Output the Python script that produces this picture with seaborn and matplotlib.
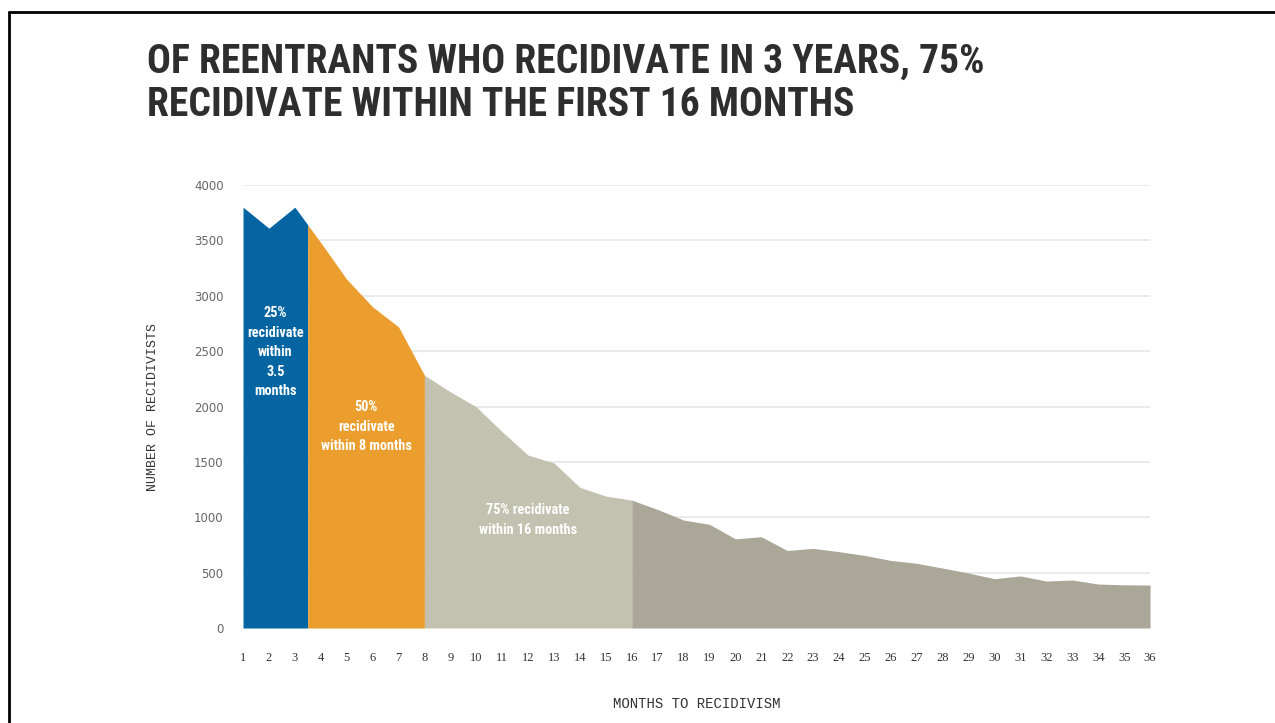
import numpy as np
import pandas as pd
import matplotlib
matplotlib.use("Agg")
import matplotlib.pyplot as plt
import seaborn as sns

# Monthly counts of recidivists over the first three years after release
months = list(range(1, 37))
recidivists = [3800, 3610, 3800, 3480, 3150, 2900, 2720, 2283,
               2133, 1997, 1772, 1561, 1490, 1270, 1191, 1155,
               1070, 975, 936, 805, 824, 700, 719, 689,
               655, 610, 584, 541, 496, 445, 470, 424,
               433, 397, 390, 388]

# Cumulative-share breakpoints (in months) and their fills
breaks = [1, 3.5, 8, 16, 36]
band_colors = ["#0565a3", "#eb9e2e", "#c3c2b0", "#aaa799"]

y_ticks = [0, 500, 1000, 1500, 2000, 2500, 3000, 3500, 4000]

title_lines = ["OF REENTRANTS WHO RECIDIVATE IN 3 YEARS, 75%",
               "RECIDIVATE WITHIN THE FIRST 16 MONTHS"]
band_notes = [
    (2.25, 2490, "25%\nrecidivate\nwithin\n3.5\nmonths", "bold"),
    (5.75, 1815, "50%\nrecidivate\nwithin 8 months", "bold"),
    (12.0, 975, "75% recidivate\nwithin 16 months", "semibold"),
]

df = pd.DataFrame({"month": months, "count": recidivists})

sns.set_theme(style="white")
narrow = ["Roboto Condensed", "Liberation Sans Narrow", "Roboto", "DejaVu Sans"]

fig = plt.figure(figsize=(12.75, 7.23), dpi=100)
ax = fig.add_axes([0.1906, 0.1314, 0.7114, 0.6127])

# Horizontal gridlines spanning the data range
for yv in y_ticks:
    ax.plot([1, 36], [yv, yv], color="#e4e4e4", lw=1.1, zorder=0)

x = np.asarray(df["month"], dtype=float)
y = np.asarray(df["count"], dtype=float)
for (lo, hi), col in zip(zip(breaks[:-1], breaks[1:]), band_colors):
    inner = x[(x > lo) & (x < hi)]
    xs = np.concatenate([[lo], inner, [hi]])
    ys = np.interp(xs, x, y)
    ax.fill_between(xs, 0, ys, color=col, lw=0, zorder=2)

sns.lineplot(data=df, x="month", y="count", ax=ax, color="#aaa799",
             lw=0, zorder=1)

for xm, ym, txt, wt in band_notes:
    ax.text(xm, ym, txt, ha="center", va="center", color="white",
            fontsize=10.3, fontweight=wt, family=narrow, linespacing=1.5,
            zorder=3)

ax.set_xlim(1, 36)
ax.set_ylim(0, 4000)
ax.set_xticks(months)
ax.set_xticklabels([str(m) for m in months], family="Liberation Serif",
                   fontsize=9, color="#333333")
ax.set_yticks(y_ticks)
ax.set_yticklabels([str(v) for v in y_ticks], family="DejaVu Sans",
                   fontsize=8.5, color="#666666")
ax.tick_params(axis="x", length=0, pad=17)
ax.tick_params(axis="y", length=0, pad=14)
for s in ax.spines.values():
    s.set_visible(False)
ax.set_xlabel("MONTHS TO RECIDIVISM", family="Liberation Mono",
              fontsize=10, color="#333333", labelpad=24)
ax.set_ylabel("NUMBER OF RECIDIVISTS", family="Liberation Mono",
              fontsize=9.5, color="#333333", labelpad=25)

# Headline
for i, line in enumerate(title_lines):
    fig.text(147 / 1275, 1 - (62 + 43 * i) / 723, line, family=narrow,
             fontweight="bold", fontsize=28.5, color="#2e2e2e", va="center")

# Frame lines along the top and left edges
fig.add_artist(plt.Line2D([9 / 1275, 1], [1 - 12 / 723, 1 - 12 / 723],
                          transform=fig.transFigure, color="black", lw=2))
fig.add_artist(plt.Line2D([9 / 1275, 9 / 1275], [0, 1 - 12 / 723],
                          transform=fig.transFigure, color="black", lw=2))

fig.savefig("out.png", dpi=100, facecolor="white")
